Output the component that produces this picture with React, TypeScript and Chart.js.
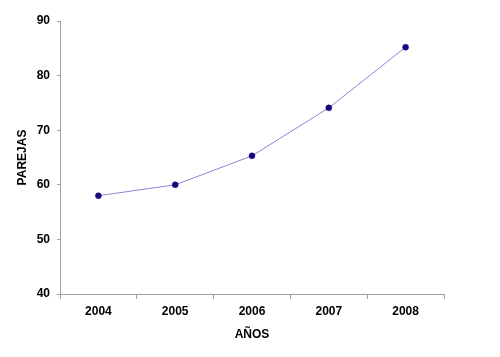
import React, { useEffect, useRef } from "react";
import { Chart, registerables } from "chart.js";

Chart.register(...registerables);

const years = ["2004", "2005", "2006", "2007", "2008"];
const parejas = [58, 60, 65.3, 74.1, 85.2];
const yMin = 40;
const yMax = 90;
const yStep = 10;

export default function App() {
  const ref = useRef<HTMLCanvasElement | null>(null);
  useEffect(() => {
    document.body.style.margin = "0";
    const font = { family: "'Liberation Sans', Arial, sans-serif", size: 12, weight: "bold" as const };
    const chart = new Chart(ref.current!, {
      type: "line",
      data: {
        labels: years,
        datasets: [
          {
            data: parejas,
            borderColor: "#8a84d6",
            borderWidth: 1,
            backgroundColor: "#14087e",
            pointBackgroundColor: "#14087e",
            pointBorderColor: "#14087e",
            pointRadius: 3,
            pointBorderWidth: 0.5,
            tension: 0,
            fill: false,
          },
        ],
      },
      options: {
        responsive: false,
        animation: false,
        layout: { padding: { top: 21, right: 56, left: 0, bottom: 0 } },
        plugins: { legend: { display: false }, tooltip: { enabled: false } },
        scales: {
          x: {
            type: "category",
            offset: true,
            grid: { offset: true, drawOnChartArea: false, drawTicks: true, tickLength: 5, color: "#a0a0a0" },
            border: { display: true, color: "#a0a0a0", width: 1 },
            ticks: { color: "#000", font, padding: 5, maxRotation: 0 },
            title: { display: true, text: "AÑOS", color: "#000", font, padding: { top: 0, bottom: 15.4 } },
            afterFit: (s: any) => {
              s.height = 63;
            },
          },
          y: {
            min: yMin,
            max: yMax,
            grid: { drawOnChartArea: false, drawTicks: true, tickLength: 3, color: "#a0a0a0" },
            border: { display: true, color: "#a0a0a0", width: 1 },
            ticks: { stepSize: yStep, color: "#000", font, padding: 7 },
            title: { display: true, text: "PAREJAS", color: "#000", font, padding: { top: 15.4, bottom: 0 } },
            afterFit: (s: any) => {
              s.width = 60;
            },
          },
        },
      },
    });
    return () => chart.destroy();
  }, []);
  return (
    <div style={{ width: 500, height: 357, background: "#fff" }}>
      <canvas ref={ref} width={500} height={357} style={{ display: "block" }} />
    </div>
  );
}
